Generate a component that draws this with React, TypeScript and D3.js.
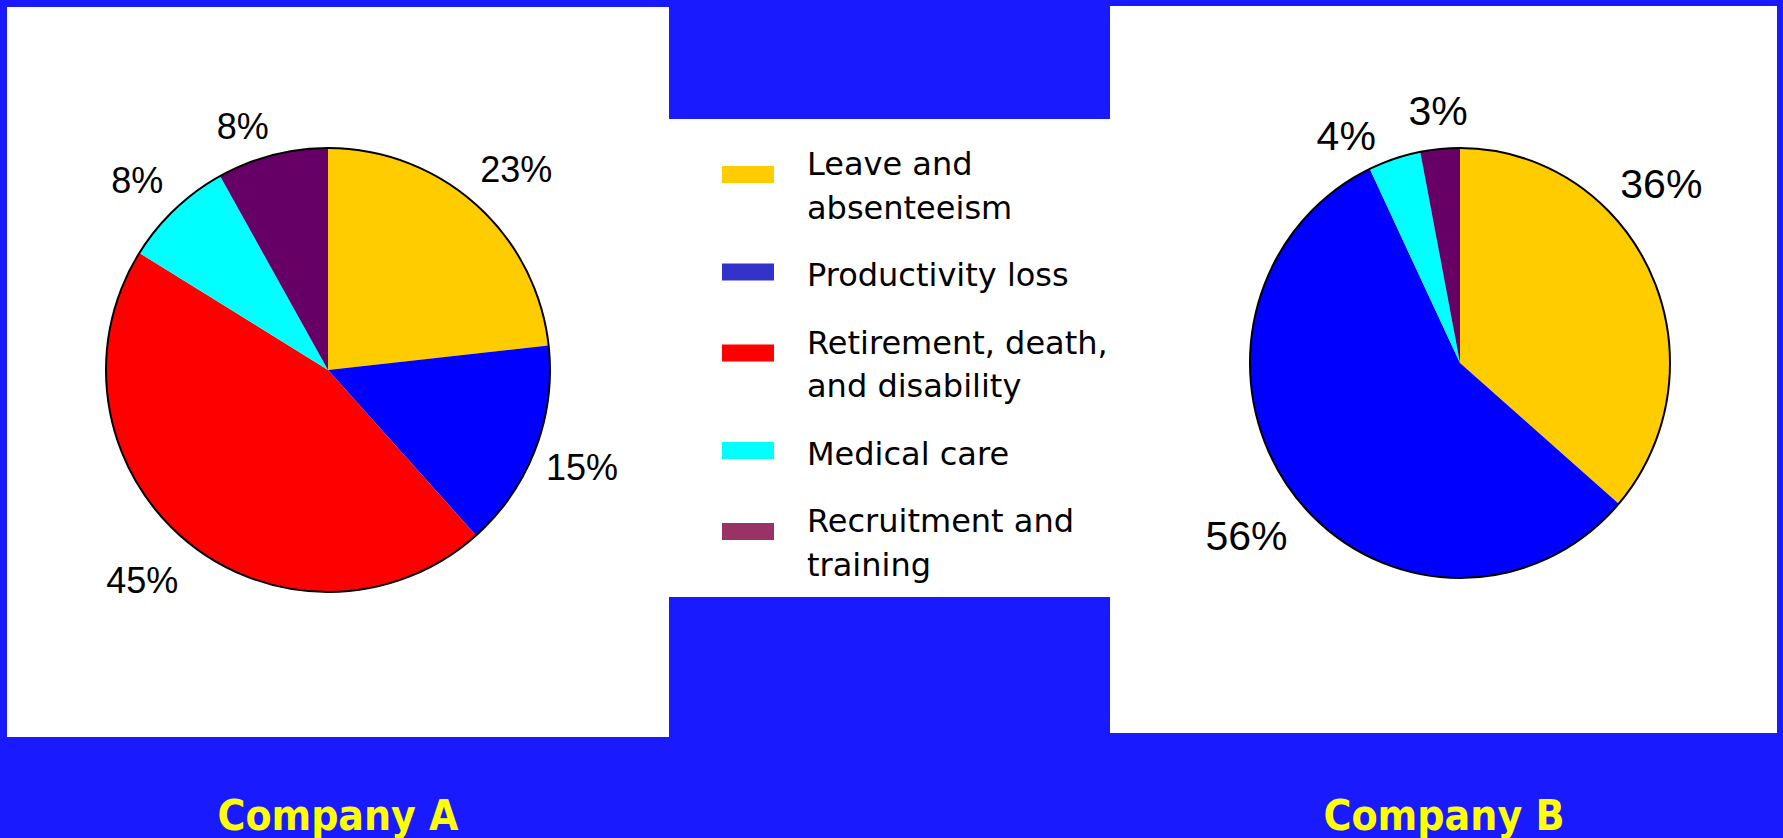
import React from "react";
import * as d3 from "d3";

const categories = [
  "Leave and absenteeism",
  "Productivity loss",
  "Retirement, death, and disability",
  "Medical care",
  "Recruitment and training",
];
const legendLines = [
  ["Leave and", "absenteeism"],
  ["Productivity loss"],
  ["Retirement, death,", "and disability"],
  ["Medical care"],
  ["Recruitment and", "training"],
];
const companyAValues = [23, 15, 45, 8, 8];
const companyBValues = [36, 56, 0, 4, 3];
const sliceColors = ["#FFCC00", "#0000FF", "#FF0000", "#00FFFF", "#660066"];
const legendColors = ["#FFCC00", "#3333CC", "#FF0000", "#00FFFF", "#993366"];
const companyNames = ["Company A", "Company B"];

const W = 1783;
const H = 838;
const BG = "#1A1AFF";

type PieCfg = {
  values: number[];
  cx: number;
  cy: number;
  rx: number;
  ry: number;
  labelGap: number;
  fontSize: number;
  nudges: Record<number, [number, number]>;
};

function Pie({ cfg }: { cfg: PieCfg }) {
  const pie = d3.pie<number>().sort(null).value((d) => d);
  const arcs = pie(cfg.values);
  const arcGen = d3.arc<d3.PieArcDatum<number>>().innerRadius(0).outerRadius(cfg.rx);
  const sy = cfg.ry / cfg.rx;
  const R = cfg.rx + cfg.labelGap;
  const labelArc = d3.arc<d3.PieArcDatum<number>>().innerRadius(R).outerRadius(R);
  return (
    <g>
      <g transform={`translate(${cfg.cx},${cfg.cy}) scale(1,${sy})`}>
        {arcs.map((a, i) =>
          a.value > 0 ? <path key={i} d={arcGen(a) || ""} fill={sliceColors[i]} /> : null
        )}
        <circle r={cfg.rx} fill="none" stroke="#000" strokeWidth={2} vectorEffect="non-scaling-stroke" />
      </g>
      {arcs.map((a, i) => {
        if (a.value <= 0) return null;
        const [lx, ly] = labelArc.centroid(a);
        const n = cfg.nudges[i] || [0, 0];
        const x = cfg.cx + lx + n[0];
        const y = cfg.cy + ly * sy + n[1];
        return (
          <text
            key={"l" + i}
            x={x}
            y={y + cfg.fontSize * 0.358}
            textAnchor="middle"
            fontFamily="'Liberation Sans', Arial, sans-serif"
            fontSize={cfg.fontSize}
            fill="#000"
          >
            {`${a.value}%`}
          </text>
        );
      })}
    </g>
  );
}

export default function App() {
  const pieA: PieCfg = {
    values: companyAValues,
    cx: 328,
    cy: 370,
    rx: 222,
    ry: 222,
    labelGap: 50,
    fontSize: 36,
    nudges: { 0: [7, 2], 2: [-11, 2], 3: [-3, 7], 4: [-17, 19] },
  };
  const pieB: PieCfg = {
    values: companyBValues,
    cx: 1460,
    cy: 363,
    rx: 210,
    ry: 215,
    labelGap: 52,
    fontSize: 41,
    nudges: { 0: [-37, -68], 1: [-5, 10], 3: [-32, 27], 4: [3, 14] },
  };

  const legendX = 722;
  const swW = 52;
  const swH = 17;
  const textX = 807;
  const lineH = 43.5;
  let baseline = 175;
  const legendItems = legendLines.map((lines, i) => {
    const first = baseline;
    const swCy = lines.length > 1 ? first - 0.5 : first - 14;
    baseline = first + (lines.length - 1) * lineH + 67.5;
    return { lines, first, swCy, i };
  });

  return (
    <svg
      width={W}
      height={H}
      viewBox={`0 0 ${W} ${H}`}
      style={{ position: "absolute", left: 0, top: 0, display: "block" }}
    >
      <rect x={0} y={0} width={W} height={H} fill={BG} />
      <rect x={7} y={7} width={662} height={730} fill="#fff" />
      <rect x={669} y={119} width={441} height={478} fill="#fff" />
      <rect x={1110} y={6} width={667} height={727} fill="#fff" />

      <Pie cfg={pieA} />
      <Pie cfg={pieB} />

      {legendItems.map(({ lines, first, swCy, i }) => (
        <g key={categories[i]}>
          <rect x={legendX} y={swCy - swH / 2} width={swW} height={swH} fill={legendColors[i]} />
          {lines.map((t, j) => (
            <text
              key={j}
              x={textX}
              y={first + j * lineH}
              fontFamily="'DejaVu Sans', Verdana, sans-serif"
              fontSize={32}
              fill="#000"
            >
              {t}
            </text>
          ))}
        </g>
      ))}

      {[
        { name: companyNames[0], cx: 338 },
        { name: companyNames[1], cx: 1444 },
      ].map((c) => (
        <text
          key={c.name}
          x={c.cx}
          y={830}
          textAnchor="middle"
          fontFamily="'DejaVu Sans Condensed', 'DejaVu Sans', Verdana, sans-serif"
          fontWeight="bold"
          fontSize={43}
          fill="#FFFF00"
          textLength={241}
          lengthAdjust="spacingAndGlyphs"
        >
          {c.name}
        </text>
      ))}
    </svg>
  );
}
